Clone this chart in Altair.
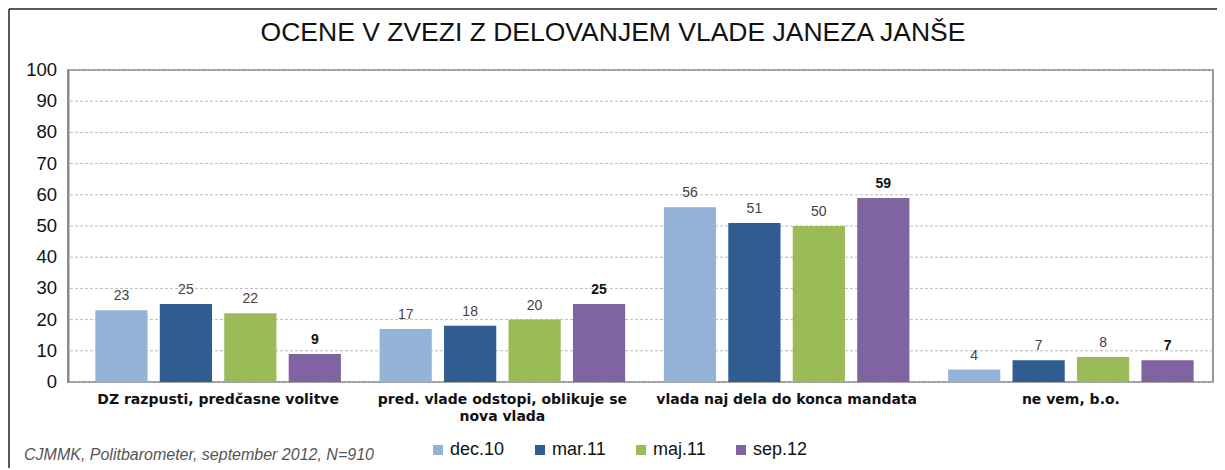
import altair as alt
import pandas as pd

categories = ["DZ razpusti, predčasne volitve",
              "pred. vlade odstopi, oblikuje se\nnova vlada",
              "vlada naj dela do konca mandata",
              "ne vem, b.o."]
series = ["dec.10", "mar.11", "maj.11", "sep.12"]
values = {
    "dec.10": [23, 17, 56, 4],
    "mar.11": [25, 18, 51, 7],
    "maj.11": [22, 20, 50, 8],
    "sep.12": [9, 25, 59, 7],
}
colors = ["#95B3D7", "#2F5D91", "#9BBB59", "#8064A2"]
y_ticks = list(range(0, 101, 10))
title_text = "OCENE V ZVEZI Z DELOVANJEM VLADE JANEZA JANŠE"
source_text = "CJMMK, Politbarometer, september 2012, N=910"

rows = []
for s in series:
    for c, v in zip(categories, values[s]):
        rows.append({"cat": c, "series": s, "value": v, "bold": s == "sep.12"})
df = pd.DataFrame(rows)
ticks_df = pd.DataFrame({"value": y_ticks})

W, H = 1145, 312
FONT = "Liberation Sans"

x = alt.X("cat:N", sort=categories,
          scale=alt.Scale(paddingInner=0, paddingOuter=0, range=[8, W]),
          axis=alt.Axis(title=None, labelAngle=0, domain=False, ticks=False,
                        labelFontSize=14, labelFont="DejaVu Sans", labelFontWeight="bold",
                        labelColor="#111", labelPadding=10, labelLimit=400,
                        labelExpr="split(datum.label, '\\n')", labelLineHeight=17))
xo = alt.XOffset("series:N", sort=series,
                 scale=alt.Scale(paddingInner=0.19, paddingOuter=0.3))
yscale = alt.Scale(domain=[0, 100], nice=False)
yaxis = alt.Axis(title=None, values=y_ticks, grid=False, labels=False,
                 domain=True, domainColor="#888", domainWidth=2, ticks=False)
y = alt.Y("value:Q", scale=yscale, axis=yaxis)

grid = alt.Chart(ticks_df).mark_rule(color="#BBBBBB", strokeDash=[3, 2], strokeWidth=1).encode(
    y=y)
tick_labels = alt.Chart(ticks_df).mark_text(
    align="right", baseline="middle", fontSize=18.5, font=FONT, color="#111").encode(
    x=alt.value(-11), y=y, text="value:Q")

bars = alt.Chart(df).mark_bar().encode(
    x=x, xOffset=xo, y=y,
    color=alt.Color("series:N", sort=series,
                    scale=alt.Scale(domain=series, range=colors),
                    legend=alt.Legend(title=None, orient="none", direction="horizontal",
                                      legendX=361, legendY=371, symbolType="square",
                                      symbolSize=100, labelFontSize=18, labelFont=FONT,
                                      labelColor="#111", columnPadding=26, labelOffset=3,
                                      symbolStrokeWidth=0)),
)

labels_normal = alt.Chart(df).transform_filter("!datum.bold").mark_text(
    dy=-14, fontSize=14, font=FONT, color="#444").encode(
    x=alt.X("cat:N", sort=categories), xOffset=alt.XOffset("series:N", sort=series),
    y=y, text="value:Q")
labels_bold = alt.Chart(df).transform_filter("datum.bold").mark_text(
    dy=-14, fontSize=14, font=FONT, fontWeight="bold", color="#111").encode(
    x=alt.X("cat:N", sort=categories), xOffset=alt.XOffset("series:N", sort=series),
    y=y, text="value:Q")

source = alt.Chart(pd.DataFrame({"t": [source_text]})).mark_text(
    align="left", baseline="middle", fontSize=16, font=FONT, fontStyle="italic",
    color="#555").encode(x=alt.value(-44), y=alt.value(H + 73), text="t:N")

title = alt.Chart(pd.DataFrame({"t": [title_text]})).mark_text(
    align="center", baseline="middle", fontSize=26.5, font=FONT,
    color="#111").encode(x=alt.value(545), y=alt.value(-37), text="t:N")

frame_top = alt.Chart(pd.DataFrame({"a": [0]})).mark_rule(
    color="#222", strokeWidth=1.5).encode(
    x=alt.value(-59), x2=alt.value(W + 4), y=alt.value(-61))
frame_left = alt.Chart(pd.DataFrame({"a": [0]})).mark_rule(
    color="#222", strokeWidth=1.5).encode(
    x=alt.value(-59), y=alt.value(-61), y2=alt.value(H + 90))

chart = alt.layer(grid, tick_labels, bars, labels_normal, labels_bold, source, title,
                  frame_top, frame_left).properties(
    width=W, height=H,
    autosize=alt.AutoSizeParams(type="none"),
    padding={"left": 60, "top": 62, "right": 4, "bottom": 86},
).configure_view(stroke="#999", strokeWidth=2)

chart.save("out.html", embed_options={"renderer": "svg", "actions": False})
